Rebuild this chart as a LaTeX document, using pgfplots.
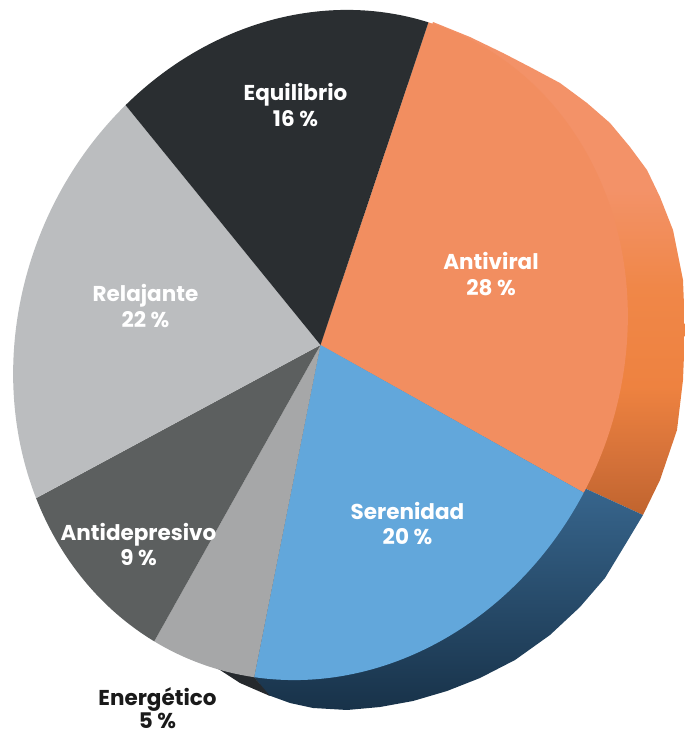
\documentclass[border=0pt]{standalone}
\usepackage{fontspec}
\setmainfont{Poppins}
\usepackage{pgfplots}
\usepackage{pgfplotstable}
\pgfplotsset{compat=1.18}

\definecolor{col0}{HTML}{F28E60}% Antiviral
\definecolor{col1}{HTML}{62A7DB}% Serenidad
\definecolor{col2}{HTML}{A6A7A8}% Energetico
\definecolor{col3}{HTML}{5C5F5F}% Antidepresivo
\definecolor{col4}{HTML}{BBBDBF}% Relajante
\definecolor{col5}{HTML}{2A2E31}% Equilibrio
\definecolor{blTop}{HTML}{4B86B8}
\definecolor{blMid}{HTML}{2C5577}
\definecolor{blBot}{HTML}{183249}
\definecolor{enSide}{HTML}{25292D}
\definecolor{labdark}{HTML}{1A1A1A}

\pgfdeclareverticalshading{orside}{100bp}{%
  rgb(0bp)=(0.753,0.392,0.180);
  rgb(25bp)=(0.753,0.392,0.180);
  rgb(30bp)=(0.824,0.439,0.220);
  rgb(38bp)=(0.933,0.510,0.251);
  rgb(48bp)=(0.941,0.529,0.282);
  rgb(58bp)=(0.953,0.573,0.408);
  rgb(100bp)=(0.953,0.573,0.408)}

\pgfplotstableread{
slice pct
Antiviral 28
Serenidad 20
Energetico 5
Antidepresivo 9
Relajante 22
Equilibrio 16
}\piedata

% geometry of the (tilted) pie face, in data units (1 unit = 1pt)
\def\cx{320.5}
\def\cy{391}
\def\startangle{71.5}
\def\tilt{67.6}
\def\Ra{340.5}
\def\Rb{301.4}

\gdef\cum{0}
\foreach \i in {0,...,5} {%
  \pgfplotstablegetelem{\i}{pct}\of\piedata
  \let\p\pgfplotsretval
  \pgfmathsetmacro{\thA}{\startangle - 3.6*\cum}%
  \pgfmathsetmacro{\thB}{\startangle - 3.6*(\cum+\p)}%
  \pgfmathsetmacro{\tA}{atan2(\Ra*sin(\thA-\tilt), \Rb*cos(\thA-\tilt))}%
  \pgfmathsetmacro{\tB}{atan2(\Ra*sin(\thB-\tilt), \Rb*cos(\thB-\tilt))}%
  \pgfmathsetmacro{\tB}{\tB > \tA ? \tB-360 : \tB}%
  \expandafter\xdef\csname tA\i\endcsname{\tA}%
  \expandafter\xdef\csname tB\i\endcsname{\tB}%
  \pgfmathsetmacro{\newcum}{\cum+\p}%
  \xdef\cum{\newcum}%
}

\newcommand\lab[4]{% x, baseline (pixel from top), text, colour
  \node[anchor=base, inner sep=0pt, font=\fontsize{21.5}{26}\selectfont\bfseries, text=#4] at (axis cs:#1,{736-#2}) {#3};
}

\begin{document}
\begin{tikzpicture}
\begin{axis}[
  scale only axis,
  width=685pt, height=736pt,
  xmin=0, xmax=685, ymin=0, ymax=736,
  hide axis, clip=false,
]
\path (axis cs:0,0) rectangle (axis cs:685,736);
% 3D side of the Antiviral slice
\addplot[draw=none, overlay, shading=orside] coordinates {
(320.5,391) (433,714) (470,699) (503,683) (530,669) (560,653) (587,633)
(610,613) (630,589) (647,566) (660,539) (673,506) (683,456) (685,406)
(683,356) (677,306) (660,256) (643,221) (582,249) (320.5,391)
};
% 3D side of the Serenidad slice
\addplot[draw=none, overlay, top color=blTop, middle color=blMid, bottom color=blBot] coordinates {
(320.5,391) (582,249) (643,221) (625,191) (605,158) (580,129) (550,101)
(515,76) (480,58) (447,45) (413,35) (380,29) (347,26) (313,28) (290,33)
(268,41) (254,59) (320.5,391)
};
% 3D side of the Energetico slice
\addplot[draw=none, overlay, fill=enSide] coordinates {
(320.5,391) (254,59) (270,40) (263,43) (240,53) (220,66) (197,79) (180,86) (320.5,391)
};
% top face slices
\pgfplotsinvokeforeach{0,...,5}{%
  \edef\temp{\noexpand\fill[col#1, overlay, rotate around={\tilt:(axis cs:\cx,\cy)}]
    (axis cs:\cx,\cy) -- ++(\csname tA#1\endcsname:\Ra pt and \Rb pt)
    arc[start angle=\csname tA#1\endcsname, end angle=\csname tB#1\endcsname,
        x radius=\Ra pt, y radius=\Rb pt] -- cycle;}%
  \temp
}
% labels
\lab{295.5}{101}{Equilibrio}{white}
\lab{295.5}{127}{16 \%}{white}
\lab{491}{270}{Antiviral}{white}
\lab{491}{296}{28 \%}{white}
\lab{145.5}{302}{Relajante}{white}
\lab{145.5}{328}{22 \%}{white}
\lab{407.5}{520}{Serenidad}{white}
\lab{407.5}{545}{20 \%}{white}
\lab{138.5}{541}{Antidepresivo}{white}
\lab{138.5}{566}{9 \%}{white}
\lab{157.5}{706}{Energético}{labdark}
\lab{157.5}{729}{5 \%}{labdark}
\end{axis}
\end{tikzpicture}
\end{document}
